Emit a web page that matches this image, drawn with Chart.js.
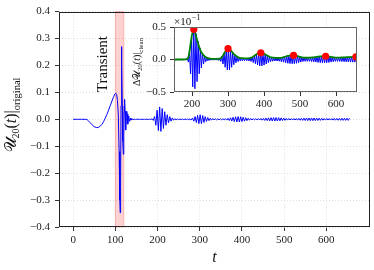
<!DOCTYPE html>
<html><head><meta charset="utf-8">
<script src="https://cdn.jsdelivr.net/npm/chart.js@4.4.0/dist/chart.umd.min.js"></script>
<style>
html,body{margin:0;padding:0;background:#fff;}
#wrap{position:relative;width:374px;height:270px;overflow:hidden;}
#main{position:absolute;left:0;top:0;}
#inset{position:absolute;left:120px;top:10px;}
</style></head><body>
<div id="wrap"><canvas id="main" width="374" height="270"></canvas><canvas id="inset" width="250" height="100"></canvas></div>
<script>
// ---- data ----
const transientTimes = [0,10,20,30,33,36,40,44,48,52,56,60,64,68,72,76,80,84,88,92,96,99,101,103,105,107,109,110.5,111.5,112.5,113.5,114.5,115.5,116.5,117.5,119,120,121,122,123,124,125,126,127,128,129,130,131,132,133,134,135.5,137];
const transientValues = [0,0,0,0,-0.001,-0.005,-0.012,-0.019,-0.025,-0.029,-0.031,-0.030,-0.026,-0.019,-0.009,0.004,0.018,0.034,0.051,0.068,0.084,0.094,0.097,0.092,0.070,0.020,-0.120,-0.300,-0.347,-0.250,0.050,0.270,0.200,0.050,-0.080,-0.130,-0.060,0.030,0.074,0.030,-0.030,-0.040,0.000,0.030,0.020,-0.015,-0.018,0.010,0.012,-0.006,-0.007,0.004,-0.003];

const ringTimes = [139,142,145,148,151,154,157,160,163,166,169,172,175,178,181,184,187,190,193,196,199,202,205,208,211,214,217,220,223,226,229,232,235,238,241,244,247,250,253,256,259,262,265,268,271,274,277,280,283,286,289,292,295,298,301,304,307,310,313,316,319,322,325,328,331,334,337,340,343,346,349,352,355,358,361,364,367,370,373,376,379,382,385,388,391,394,397,400,403,406,409,412,415,418,421,424,427,430,433,436,439,442,445,448,451,454,457,460,463,466,469,472,475,478,481,484,487,490,493,496,499,502,505,508,511,514,517,520,523,526,529,532,535,538,541,544,547,550,553,556,559,562,565,568,571,574,577,580,583,586,589,592,595,598,601,604,607,610,613,616,619,622,625,628,631,634,637,640,643,646,649,652,655];
const ringValues = [0.002,-0.0015,0.001,-0.0008,0.0006,-0.0005,0.0004,-0.0004,0.0003,-0.0003,0.0003,-0.0003,0.0004,-0.0005,0.0007,-0.001,0.002,-0.004,0.010,-0.022,0.034,-0.042,0.046,-0.045,0.040,-0.034,0.028,-0.022,0.017,-0.013,0.010,-0.007,0.005,-0.0035,0.0025,-0.002,0.0015,-0.0012,0.001,-0.001,0.001,-0.001,0.001,-0.001,0.0012,-0.0015,0.002,-0.003,0.005,-0.007,0.010,-0.012,0.0145,-0.016,0.0167,-0.016,0.014,-0.012,0.010,-0.008,0.0065,-0.005,0.004,-0.0032,0.0027,-0.0023,0.002,-0.002,0.0018,-0.0018,0.0018,-0.0018,0.002,-0.0022,0.0026,-0.003,0.0038,-0.0046,0.0055,-0.0065,0.0074,-0.0084,0.0092,-0.0097,0.0100,-0.0098,0.0093,-0.0086,0.0078,-0.0068,0.0058,-0.0049,0.0041,-0.0034,0.0029,-0.0026,0.0024,-0.0023,0.0023,-0.0023,0.0024,-0.0026,0.0029,-0.0033,0.0037,-0.0041,0.0046,-0.0050,0.0054,-0.0058,0.0061,-0.0063,0.0064,-0.0065,0.0065,-0.0064,0.0062,-0.0058,0.0053,-0.0048,0.0043,-0.0038,0.0034,-0.0031,0.0029,-0.0028,0.0027,-0.0027,0.0027,-0.0028,0.0029,-0.0031,0.0033,-0.0035,0.0038,-0.0040,0.0043,-0.0045,0.0047,-0.0048,0.0049,-0.0050,0.0050,-0.0050,0.0050,-0.0049,0.0047,-0.0045,0.0042,-0.0039,0.0036,-0.0033,0.0031,-0.0029,0.0028,-0.0028,0.0028,-0.0029,0.0030,-0.0031,0.0032,-0.0033,0.0034,-0.0035,0.0036,-0.0037,0.0038,-0.0039,0.0039,-0.0040,0.0040,-0.0040,0.0040];

const envelopeTimes = [150,170,185,190,195,200,205,210,215,220,225,230,235,240,250,265,275,280,285,290,295,300,305,310,315,320,325,330,340,355,365,370,375,380,385,390,395,400,405,410,415,420,430,445,455,460,465,470,475,480,485,490,495,500,505,510,520,535,545,550,555,560,565,570,575,580,585,590,595,600,610,620,630,640,650,658];
const envelopeValues = [0,0,0.0005,0.004,0.02,0.038,0.046,0.039,0.028,0.019,0.012,0.008,0.005,0.003,0.0015,0.001,0.0012,0.002,0.005,0.010,0.014,0.0167,0.0155,0.0125,0.009,0.0065,0.0045,0.003,0.002,0.0018,0.0028,0.0045,0.0065,0.0083,0.0095,0.0100,0.0097,0.0087,0.0072,0.0056,0.0042,0.0032,0.0024,0.0025,0.0038,0.0046,0.0055,0.0061,0.0064,0.0065,0.0064,0.0058,0.0048,0.0040,0.0033,0.0029,0.0027,0.0032,0.0040,0.0044,0.0047,0.0049,0.0050,0.0050,0.0049,0.0045,0.0040,0.0035,0.0031,0.0028,0.0029,0.0032,0.0035,0.0038,0.0040,0.0041];

const peakTimes = [205,300,391,482,571,655];
const peakValues = [0.0465,0.0167,0.0102,0.0065,0.0050,0.0041];

const mainXTicks = [0,100,200,300,400,500,600];
const mainYTicks = [-0.4,-0.3,-0.2,-0.1,0,0.1,0.2,0.3,0.4];
const insetXTicks = [200,300,400,500,600];
const insetYTicks = [-0.05,0,0.05];
const transientWindow = [100,120];
const transientLabel = 'Transient';

// ---- build ----
const SERIF = "'Liberation Serif','DejaVu Serif',serif";
const MATH = "'Liberation Serif','DejaVu Serif','DejaVu Sans','Noto Sans',serif";
const minus = v => (v < 0 ? '\u2212' : '') + Math.abs(v).toFixed(1);

const signalPts = transientTimes.map((t,i)=>({x:t,y:transientValues[i]}))
  .concat(ringTimes.map((t,i)=>({x:t,y:ringValues[i]})));
const envPts = envelopeTimes.map((t,i)=>({x:t,y:envelopeValues[i]}));
const peakPts = peakTimes.map((t,i)=>({x:t,y:peakValues[i]}));

function drawRich(ctx, parts, cx, cy, rotate, color) {
  ctx.save();
  ctx.translate(cx, cy);
  if (rotate) ctx.rotate(-Math.PI/2);
  ctx.fillStyle = color || '#111';
  ctx.textBaseline = 'alphabetic';
  ctx.textAlign = 'left';
  let total = 0;
  parts.forEach(p => {
    ctx.font = (p.italic ? 'italic ' : '') + p.size + 'px ' + (p.family || SERIF);
    p.w = ctx.measureText(p.text).width + (p.gap || 0);
    total += p.w;
  });
  let x = -total/2;
  parts.forEach(p => {
    ctx.font = (p.italic ? 'italic ' : '') + p.size + 'px ' + (p.family || SERIF);
    ctx.fillText(p.text, x, p.shift || 0);
    x += p.w;
  });
  ctx.restore();
}

const framePlugin = (color) => ({
  id: 'frame',
  afterDraw(chart) {
    const {ctx, chartArea: a} = chart;
    ctx.save();
    ctx.strokeStyle = color;
    ctx.lineWidth = 1;
    ctx.strokeRect(Math.round(a.left)+0.5, Math.round(a.top)+0.5, Math.round(a.right-a.left)-1, Math.round(a.bottom-a.top)-1);
    ctx.restore();
  }
});

const mainDecor = {
  id: 'mainDecor',
  beforeDatasetsDraw(chart) {
    const {ctx, chartArea: a, scales: {x}} = chart;
    const x0 = x.getPixelForValue(transientWindow[0]);
    const x1 = x.getPixelForValue(transientWindow[1]);
    ctx.save();
    ctx.fillStyle = 'rgba(255,0,0,0.18)';
    ctx.fillRect(x0, a.top, x1-x0, a.bottom-a.top);
    ctx.strokeStyle = 'rgba(255,0,0,0.22)';
    ctx.lineWidth = 1;
    ctx.strokeRect(x0, a.top, x1-x0, a.bottom-a.top);
    ctx.restore();
  },
  afterDraw(chart) {
    const {ctx, chartArea: a, scales: {x, y}} = chart;
    ctx.save();
    ctx.translate(x.getPixelForValue(transientWindow[0]) - 8.5, y.getPixelForValue(0.205));
    ctx.rotate(-Math.PI/2);
    ctx.font = '15px ' + SERIF;
    ctx.fillStyle = '#111';
    ctx.textAlign = 'center';
    ctx.textBaseline = 'alphabetic';
    ctx.fillText(transientLabel, 0, 0);
    ctx.restore();
    ctx.save();
    ctx.font = 'italic 16px ' + SERIF;
    ctx.fillStyle = '#111';
    ctx.textAlign = 'center';
    ctx.textBaseline = 'alphabetic';
    ctx.fillText('t', (a.left+a.right)/2, 262);
    ctx.restore();
    drawRich(ctx, [
      {text:'\u{1D4B0}', size:16, family: MATH},
      {text:'20', size:10, shift:3},
      {text:'(', size:16},
      {text:'t', size:16, italic:true},
      {text:')', size:16},
      {text:'|', size:16},
      {text:'original', size:10.5, shift:4}
    ], 16, 115, true);
  }
};

new Chart(document.getElementById('main'), {
  type: 'line',
  data: { datasets: [{ data: signalPts, borderColor: '#0000ff', borderWidth: 1, pointRadius: 0, tension: 0, fill: false }] },
  options: {
    responsive: false, animation: false, devicePixelRatio: 1,
    parsing: false, normalized: true,
    layout: { padding: { left: 0, right: 4, top: 10, bottom: 0 } },
    plugins: { legend: { display: false }, tooltip: { enabled: false } },
    scales: {
      x: {
        type: 'linear', min: -33.5, max: 703.5,
        afterBuildTicks: s => { s.ticks = mainXTicks.map(v => ({ value: v })); },
        afterFit: s => { s.height = 43; },
        ticks: { font: { family: SERIF, size: 11 }, color: '#222', padding: 3, maxRotation: 0, autoSkip: false, callback: v => String(v) },
        grid: { color: '#d6d6d6', lineWidth: 0.8, tickLength: 4, tickColor: '#333', tickWidth: 1 },
        border: { display: false, dash: [1, 2] }
      },
      y: {
        type: 'linear', min: -0.4, max: 0.4,
        afterBuildTicks: s => { s.ticks = mainYTicks.map(v => ({ value: v })); },
        afterFit: s => { s.width = 59; },
        ticks: { font: { family: SERIF, size: 11 }, color: '#222', padding: 5, autoSkip: false, callback: v => minus(v) },
        grid: { color: '#d6d6d6', lineWidth: 0.8, tickLength: 4, tickColor: '#333', tickWidth: 1 },
        border: { display: false, dash: [1, 2] }
      }
    }
  },
  plugins: [mainDecor, framePlugin('#222')]
});

const insetDecor = {
  id: 'insetDecor',
  beforeDraw(chart) {
    const {ctx, chartArea: a} = chart;
    ctx.save();
    ctx.fillStyle = '#fff';
    ctx.fillRect(a.left, a.top, a.right-a.left, a.bottom-a.top);
    ctx.restore();
  },
  afterDraw(chart) {
    const {ctx, chartArea: a} = chart;
    drawRich(ctx, [
      {text:'\u0394', size:10},
      {text:'\u{1D4B0}', size:10, family: MATH},
      {text:'20', size:6.5, shift:2},
      {text:'(', size:10},
      {text:'t', size:10, italic:true},
      {text:')', size:10},
      {text:'|', size:10},
      {text:'clean', size:7, shift:2.5}
    ], 20, 52, true);
    ctx.save();
    ctx.fillStyle = '#111';
    ctx.textBaseline = 'alphabetic';
    ctx.textAlign = 'left';
    ctx.font = '11px ' + SERIF;
    const w = ctx.measureText('\u00D710').width;
    ctx.fillText('\u00D710', a.left, a.top - 2.5);
    ctx.font = '8px ' + SERIF;
    ctx.fillText('\u22121', a.left + w + 0.5, a.top - 7);
    ctx.restore();
  }
};

new Chart(document.getElementById('inset'), {
  type: 'line',
  data: { datasets: [
    { type: 'scatter', data: peakPts, backgroundColor: '#ff0000', borderColor: '#ff0000', pointRadius: 3.6, pointBorderWidth: 0, showLine: false },
    { data: envPts, borderColor: '#008000', borderWidth: 1.8, pointRadius: 0, tension: 0.3, fill: false },
    { data: signalPts, borderColor: '#0000ff', borderWidth: 1, pointRadius: 0, tension: 0, fill: false }
  ] },
  options: {
    responsive: false, animation: false, devicePixelRatio: 1,
    parsing: false,
    layout: { padding: { left: 0, right: 13, top: 17, bottom: 0 } },
    plugins: { legend: { display: false }, tooltip: { enabled: false } },
    scales: {
      x: {
        type: 'linear', min: 150, max: 658,
        afterBuildTicks: s => { s.ticks = insetXTicks.map(v => ({ value: v })); },
        afterFit: s => { s.height = 18; },
        ticks: { font: { family: SERIF, size: 11 }, color: '#222', padding: 2, maxRotation: 0, autoSkip: false, callback: v => String(v) },
        grid: { drawOnChartArea: false, tickLength: 4, tickColor: '#333', tickWidth: 1 },
        border: { display: false }
      },
      y: {
        type: 'linear', min: -0.05, max: 0.05,
        afterBuildTicks: s => { s.ticks = insetYTicks.map(v => ({ value: v })); },
        afterFit: s => { s.width = 54; },
        ticks: { font: { family: SERIF, size: 11 }, color: '#222', padding: 4, autoSkip: false, callback: v => minus(Math.round(v*100)/10) },
        grid: { drawOnChartArea: false, tickLength: 4, tickColor: '#333', tickWidth: 1 },
        border: { display: false }
      }
    }
  },
  plugins: [insetDecor, framePlugin('#666')]
});
</script>
</body></html>
